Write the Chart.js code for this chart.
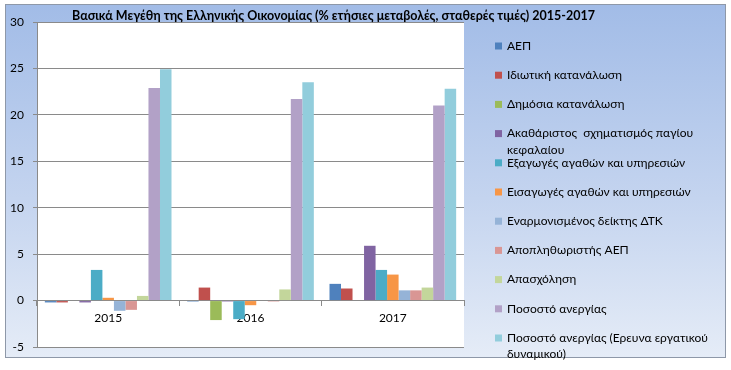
<!DOCTYPE html>
<html>
<head>
<meta charset="utf-8">
<script src="https://cdn.jsdelivr.net/npm/chart.js@4.4.0/dist/chart.umd.min.js"></script>
<style>
    html, body { margin: 0; padding: 0; background: #ffffff; }
    #frame {
        position: absolute; left: 5px; top: 4px; width: 719px; height: 352px;
        border: 1px solid #8e98a8;
        background: linear-gradient(to bottom, #a2bce7 0%, #c4d4ef 55%, #e5ecf7 100%);
    }
    #chart { position: absolute; left: 0; top: 0; }
</style>
</head>
<body>
<div id="frame"></div>
<canvas id="chart" width="731" height="370"></canvas>
<script>
// Categories and tick labels
const years = ['2015', '2016', '2017'];
const yTicks = [-5, 0, 5, 10, 15, 20, 25, 30];

// Series names (legend)
const seriesNames = [
    'ΑΕΠ',
    'Ιδιωτική κατανάλωση',
    'Δημόσια κατανάλωση',
    'Ακαθάριστος  σχηματισμός παγίου κεφαλαίου',
    'Εξαγωγές αγαθών και υπηρεσιών',
    'Εισαγωγές αγαθών και υπηρεσιών',
    'Εναρμονισμένος δείκτης ΔΤΚ',
    'Αποπληθωριστής ΑΕΠ',
    'Απασχόληση',
    'Ποσοστό ανεργίας',
    'Ποσοστό ανεργίας (Ερευνα εργατικού δυναμικού)'
];

// Series values (% annual change)
const gdp          = [-0.2, -0.1, 1.8];
const privateCons  = [-0.2, 1.4, 1.3];
const publicCons   = [0.0, -2.1, 0.0];
const gfcf         = [-0.2, -0.1, 5.9];
const exports      = [3.3, -2.0, 3.3];
const imports      = [0.3, -0.5, 2.8];
const hicp         = [-1.1, 0.0, 1.1];
const deflator     = [-1.0, -0.1, 1.1];
const employment   = [0.5, 1.2, 1.4];
const unemployment = [22.9, 21.7, 21.0];
const unemploymentLfs = [24.9, 23.5, 22.8];

const seriesValues = [gdp, privateCons, publicCons, gfcf, exports, imports,
    hicp, deflator, employment, unemployment, unemploymentLfs];

// Excel 2007 palette
const seriesColors = ['#4f81bd', '#c0504d', '#9bbb59', '#8064a2', '#4bacc6', '#f79646',
    '#95b3d7', '#d99694', '#c3d69b', '#b2a1c7', '#92cddc'];

const titleText = 'Βασικά Μεγέθη της Ελληνικής Οικονομίας (% ετήσιες μεταβολές, σταθερές τιμές) 2015-2017';
const fontFamily = 'Lato, "Open Sans", sans-serif';
const gridColor = '#8a8a8a';

// white plot area + title + custom legend
const decorPlugin = {
    id: 'decor',
    beforeDraw(chart) {
        const { ctx, chartArea } = chart;
        ctx.save();
        ctx.fillStyle = '#ffffff';
        ctx.fillRect(chartArea.left, chartArea.top, chartArea.right - chartArea.left, chartArea.bottom - chartArea.top);
        ctx.restore();
    },
    afterDraw(chart) {
        const ctx = chart.ctx;
        ctx.save();
        // title
        ctx.fillStyle = '#000000';
        ctx.font = 'bold 12.5px ' + fontFamily;
        ctx.textAlign = 'left';
        ctx.textBaseline = 'middle';
        ctx.fillText(titleText, 72, 16, 540);

        // legend
        ctx.font = '12px ' + fontFamily;
        const boxX = 495, textX = 507, startY = 46, step = 29.2, maxW = 212, lineH = 16.5;
        chart.data.datasets.forEach((ds, i) => {
            const y = startY + i * step;
            ctx.fillStyle = ds.backgroundColor;
            ctx.fillRect(boxX, y - 3.5, 7, 7);
            ctx.fillStyle = '#000000';
            // word wrap
            const words = ds.label.split(' ');
            let lines = [], line = '';
            words.forEach(w => {
                const test = line === '' ? w : line + ' ' + w;
                if (ctx.measureText(test).width > maxW && line !== '') {
                    lines.push(line);
                    line = w;
                } else {
                    line = test;
                }
            });
            lines.push(line);
            lines.forEach((l, k) => ctx.fillText(l, textX, y + k * lineH));
        });
        ctx.restore();
    }
};

new Chart(document.getElementById('chart'), {
    type: 'bar',
    data: {
        labels: years,
        datasets: seriesNames.map((name, i) => ({
            label: name,
            data: seriesValues[i],
            backgroundColor: seriesColors[i],
            borderWidth: 0,
            categoryPercentage: 0.89,
            barPercentage: 1.0
        }))
    },
    options: {
        responsive: false,
        animation: false,
        layout: {
            padding: { left: 0, top: 22, right: 267, bottom: 23 }
        },
        plugins: {
            legend: { display: false },
            title: { display: false },
            tooltip: { enabled: false }
        },
        scales: {
            x: {
                position: { y: 0 },
                offset: true,
                grid: {
                    offset: true,
                    drawOnChartArea: false,
                    drawTicks: true,
                    tickLength: 5,
                    color: gridColor
                },
                border: { display: true, color: gridColor },
                ticks: {
                    color: '#000000',
                    padding: 5,
                    font: { family: fontFamily, size: 12 }
                }
            },
            y: {
                min: -5,
                max: 30,
                afterFit(scale) { scale.width = 37; },
                afterBuildTicks(scale) { scale.ticks = yTicks.map(v => ({ value: v })); },
                grid: {
                    color: gridColor,
                    drawTicks: true,
                    tickLength: 4
                },
                border: { display: true, color: gridColor },
                ticks: {
                    color: '#000000',
                    padding: 9,
                    font: { family: fontFamily, size: 12 }
                }
            }
        }
    },
    plugins: [decorPlugin]
});
</script>
</body>
</html>
